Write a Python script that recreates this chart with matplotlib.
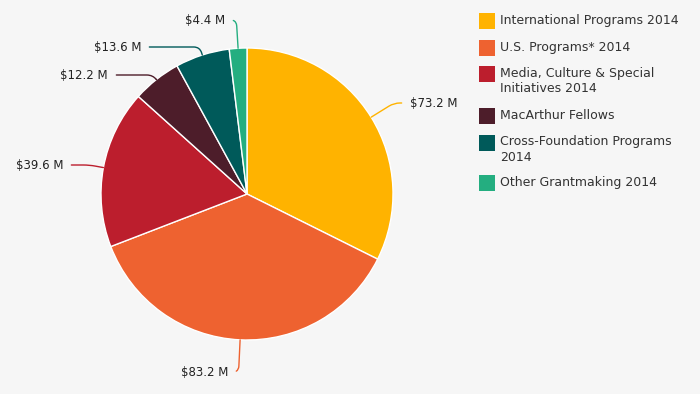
import numpy as np
import matplotlib
matplotlib.use("Agg")
import matplotlib.pyplot as plt
from matplotlib.patches import Rectangle

plt.rcParams["font.family"] = "DejaVu Sans"

# data
categories = ["International Programs 2014", "U.S. Programs* 2014",
              "Media, Culture & Special\nInitiatives 2014", "MacArthur Fellows",
              "Cross-Foundation Programs\n2014", "Other Grantmaking 2014"]
values = [73.2, 83.2, 39.6, 12.2, 13.6, 4.4]
value_labels = ["$73.2 M", "$83.2 M", "$39.6 M", "$12.2 M", "$13.6 M", "$4.4 M"]
colors = ["#FFB300", "#EE6230", "#BC1E2D", "#4D1D2A", "#005A5A", "#24AE80"]

bg = "#F6F6F6"
fig = plt.figure(figsize=(7, 3.94), dpi=100, facecolor=bg)
ax = fig.add_axes([0, 0, 1, 1])
ax.set_facecolor(bg)
ax.set_xlim(0, 700)
ax.set_ylim(394, 0)
ax.set_aspect("equal")
ax.axis("off")

cx, cy, r = 247, 194, 146
wedges, _ = ax.pie(values, colors=colors, startangle=-90, counterclock=True,
                   center=(cx, cy), radius=r, frame=True,
                   wedgeprops=dict(edgecolor="white", linewidth=1))
ax.set_xlim(0, 700)
ax.set_ylim(394, 0)
ax.axis("off")

# label text positions (pixels) and alignment
label_pos = [(410, 103, "left"), (228, 372, "right"), (63, 165, "right"),
             (108, 75, "right"), (141, 47, "right"), (225, 20, "right")]
for w, lab, col, (tx, ty, ha) in zip(wedges, value_labels, colors, label_pos):
    mid = np.deg2rad((w.theta1 + w.theta2) / 2)
    ex = cx + r * np.cos(mid)
    ey = cy + r * np.sin(mid)
    ang = -np.rad2deg(mid)  # display angle of the radial direction
    ax.annotate(lab, xy=(ex, ey), xytext=(tx, ty), ha=ha, va="center",
                fontsize=8.5, color="#222222",
                arrowprops=dict(arrowstyle="-", color=col, lw=1,
                                shrinkA=4, shrinkB=0,
                                connectionstyle="angle,angleA=0,angleB=%.1f,rad=6" % ang))

# legend
leg_y = [21, 48, 74, 116, 143, 183]
for name, col, y in zip(categories, colors, leg_y):
    ax.add_patch(Rectangle((479, y - 8), 16, 16, facecolor=col, edgecolor="none"))
    ax.text(500, y - 7.5, name, ha="left", va="top", fontsize=9,
            color="#333333", linespacing=1.25)

fig.savefig("out.png", dpi=100, facecolor=bg)
